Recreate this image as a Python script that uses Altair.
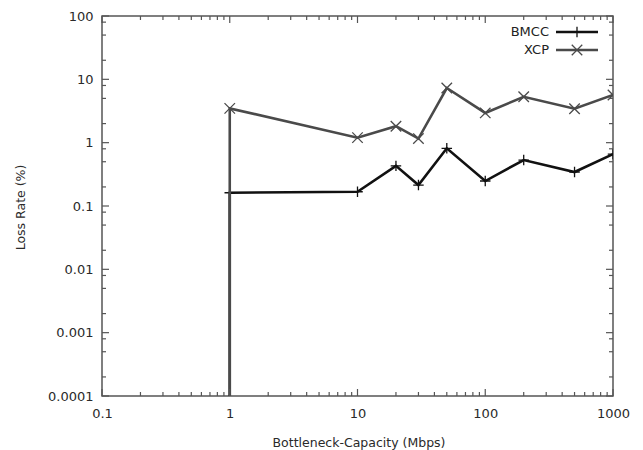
import altair as alt
import pandas as pd

# Bottleneck capacity (Mbps) and measured loss rate (%) per protocol
capacity = [1, 1, 10, 20, 30, 50, 100, 200, 500, 1000]
bmcc_loss = [0.00001, 0.162, 0.168, 0.43, 0.214, 0.815, 0.248, 0.532, 0.344, 0.66]
xcp_loss = [0.00001, 3.48, 1.2, 1.82, 1.16, 7.3, 2.95, 5.3, 3.44, 5.66]

x_major = [0.1, 1, 10, 100, 1000]
y_major = [0.0001, 0.001, 0.01, 0.1, 1, 10, 100]
x_minor = [d * m for d in [0.1, 1, 10, 100] for m in range(2, 10)]
y_minor = [d * m for d in [0.0001, 0.001, 0.01, 0.1, 1, 10] for m in (2, 5, 8)]

W, H = 511, 380
FONT = "DejaVu Sans"
BMCC_COLOR = "#111111"
XCP_COLOR = "#4a4a4a"

PLUS = "M-1,0L1,0M0,-1L0,1"
CROSS = "M-1,-1L1,1M-1,1L1,-1"

bmcc = pd.DataFrame({"capacity": capacity, "loss": bmcc_loss, "order": range(len(capacity))})
xcp = pd.DataFrame({"capacity": capacity, "loss": xcp_loss, "order": range(len(capacity))})

xs = alt.Scale(type="log", domain=[0.1, 1000], nice=False)
ys = alt.Scale(type="log", domain=[0.0001, 100], nice=False)

x_axis = alt.Axis(values=x_major, format="~g", ticks=False, tickSize=0, grid=False, domain=False,
                  labelFlush=False, labelOverlap=False,
                  labelFont=FONT, labelFontSize=13, labelColor="#2a2a2a", labelPadding=11,
                  title="Bottleneck-Capacity (Mbps)", titleFont=FONT, titleFontSize=12.5,
                  titleFontWeight="normal", titleColor="#2a2a2a",
                  titleX=W / 2 + 1, titleY=46, titleBaseline="middle")
y_axis = alt.Axis(values=y_major, format="~g", ticks=False, tickSize=0, grid=False, domain=False,
                  labelFlush=False, labelOverlap=False,
                  labelFont=FONT, labelFontSize=13, labelColor="#2a2a2a", labelPadding=9,
                  title="Loss Rate (%)", titleFont=FONT, titleFontSize=12.5,
                  titleFontWeight="normal", titleColor="#2a2a2a",
                  titleX=-82, titleY=191, titleAngle=-90, titleAlign="center",
                  titleBaseline="middle")


def series(df, color, shape):
    base = alt.Chart(df).encode(
        x=alt.X("capacity:Q", scale=xs, axis=x_axis),
        y=alt.Y("loss:Q", scale=ys, axis=y_axis),
        order="order:Q",
    )
    line = base.mark_line(color=color, strokeWidth=2.6, clip=True)
    pts = base.mark_point(shape=shape, size=110, filled=False, color=color,
                          strokeWidth=1.3, opacity=1, clip=True)
    return line + pts


# Inward ticks on all four sides of the frame
def x_ticks(vals, length):
    d = pd.DataFrame({"capacity": vals})
    b = alt.Chart(d).mark_rule(color="#555", strokeWidth=1.2)
    xe = alt.X("capacity:Q", scale=xs, axis=x_axis)
    bottom = b.encode(x=xe, y=alt.value(H), y2=alt.value(H - length))
    top = b.encode(x=xe, y=alt.value(0), y2=alt.value(length))
    return bottom + top


def y_ticks(vals, length):
    d = pd.DataFrame({"loss": vals})
    b = alt.Chart(d).mark_rule(color="#555", strokeWidth=1.2)
    ye = alt.Y("loss:Q", scale=ys, axis=y_axis)
    left = b.encode(y=ye, x=alt.value(0), x2=alt.value(length))
    right = b.encode(y=ye, x=alt.value(W), x2=alt.value(W - length))
    return left + right


ticks = x_ticks(x_major, 7) + x_ticks(x_minor, 4) + y_ticks(y_major, 7) + y_ticks(y_minor, 4)

# Key in the upper right corner
leg_df = pd.DataFrame({"k": [0]})
leg = alt.Chart(leg_df)
legend = (
    leg.mark_text(text="BMCC", align="right", baseline="middle", font=FONT, fontSize=13, color="#222")
    .encode(x=alt.value(447), y=alt.value(16))
    + leg.mark_text(text="XCP", align="right", baseline="middle", font=FONT, fontSize=13, color="#222")
    .encode(x=alt.value(447), y=alt.value(34))
    + leg.mark_rule(color=BMCC_COLOR, strokeWidth=2.6).encode(x=alt.value(454), x2=alt.value(496), y=alt.value(16))
    + leg.mark_rule(color=XCP_COLOR, strokeWidth=2.6).encode(x=alt.value(454), x2=alt.value(496), y=alt.value(34))
    + leg.mark_point(shape=PLUS, size=110, filled=False, color=BMCC_COLOR, strokeWidth=1.3, opacity=1)
    .encode(x=alt.value(475), y=alt.value(16))
    + leg.mark_point(shape=CROSS, size=110, filled=False, color=XCP_COLOR, strokeWidth=1.3, opacity=1)
    .encode(x=alt.value(475), y=alt.value(34))
)

chart = (
    alt.layer(series(bmcc, BMCC_COLOR, PLUS), series(xcp, XCP_COLOR, CROSS), ticks, legend)
    .resolve_scale(x="shared", y="shared")
    .properties(
        width=W, height=H,
        autosize=alt.AutoSizeParams(type="none"),
        padding={"left": 102, "top": 16, "right": 30, "bottom": 54},
        background="white",
    )
    .configure_view(stroke="#555", strokeWidth=1.5)
)

chart.save("out.html", embed_options={"renderer": "svg", "actions": False})
